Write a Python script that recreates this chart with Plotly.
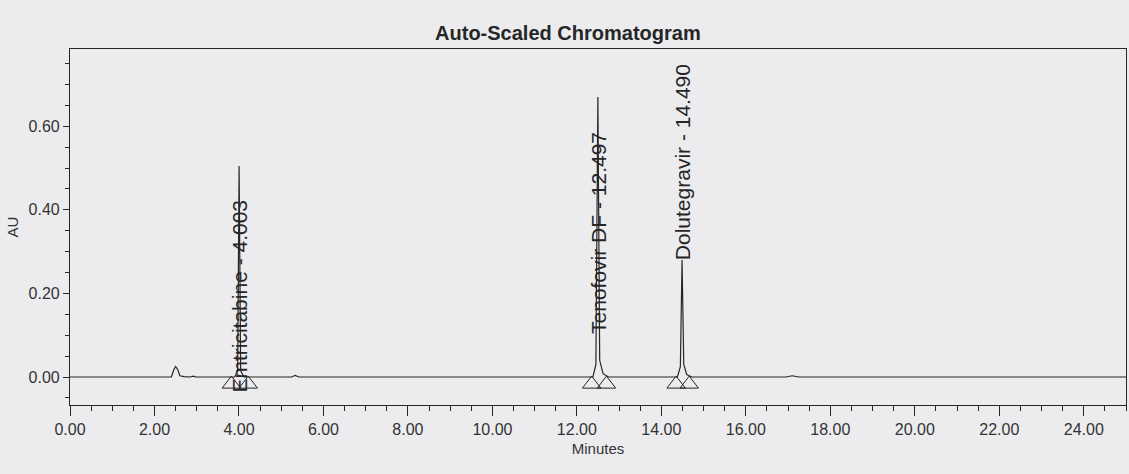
import plotly.graph_objects as go

# ---- data ----
signal_time = [0.00, 2.40, 2.46, 2.50, 2.55, 2.60, 2.70, 2.85, 2.92, 2.98,
               3.90, 3.97, 4.003, 4.04, 4.12,
               5.25, 5.33, 5.42,
               12.38, 12.45, 12.497, 12.54, 12.62, 12.75,
               14.38, 14.45, 14.490, 14.53, 14.60, 14.72,
               16.95, 17.10, 17.25, 25.00]
signal_au = [0.000, 0.000, 0.018, 0.025, 0.018, 0.003, 0.001, 0.000, 0.002, 0.000,
             0.000, 0.015, 0.505, 0.015, 0.000,
             0.000, 0.004, 0.000,
             0.000, 0.030, 0.670, 0.040, 0.008, 0.000,
             0.000, 0.025, 0.280, 0.030, 0.006, 0.000,
             0.000, 0.003, 0.000, 0.000]

peak_names = ["Emtricitabine", "Tenofovir DF", "Dolutegravir"]
peak_rt = [4.003, 12.497, 14.490]
peak_start = [3.82, 12.35, 14.35]
peak_end = [4.22, 12.70, 14.66]
label_base = [-0.043, 0.098, 0.275]

x_tick_vals = [0, 2, 4, 6, 8, 10, 12, 14, 16, 18, 20, 22, 24]
y_tick_vals = [0.0, 0.2, 0.4, 0.6]

FONT = "Arial, Liberation Sans, sans-serif"
INK = "#262626"
BG = "#ececef"

fig = go.Figure()

fig.add_trace(go.Scatter(
    x=signal_time, y=signal_au, mode="lines",
    line=dict(color=INK, width=1.2), showlegend=False, hoverinfo="skip"))

# peak start / end integration markers
marks_x = peak_start + peak_end
fig.add_trace(go.Scatter(
    x=marks_x, y=[-0.017] * len(marks_x), mode="markers",
    marker=dict(symbol="triangle-up-open", size=16, color=INK,
                line=dict(width=1, color=INK)),
    showlegend=False, hoverinfo="skip"))

for name, rt, yb in zip(peak_names, peak_rt, label_base):
    fig.add_annotation(
        x=rt, y=yb, xref="x", yref="y",
        text=f"{name} - {rt:.3f}", textangle=-90,
        showarrow=False, xanchor="center", yanchor="bottom",
        font=dict(family=FONT, size=21, color=INK))

fig.update_layout(
    width=1129, height=474,
    margin=dict(l=70, r=3, t=49, b=69),
    paper_bgcolor=BG, plot_bgcolor=BG,
    title=dict(text="<b>Auto-Scaled Chromatogram</b>", x=0.503, y=0.93,
               xanchor="center", yanchor="middle",
               font=dict(family=FONT, size=20, color=INK)),
    font=dict(family=FONT, color=INK),
)

fig.update_xaxes(
    range=[0, 25], tickvals=x_tick_vals,
    ticktext=[f"{v:.2f}" for v in x_tick_vals],
    ticks="outside", ticklen=10, tickwidth=1, tickcolor=INK,
    minor=dict(dtick=0.5, tick0=0, ticks="outside", ticklen=5, tickcolor=INK),
    showline=True, linecolor=INK, linewidth=1.2, mirror=True,
    showgrid=False, zeroline=False, automargin=False,
    tickfont=dict(family=FONT, size=16, color="#333"),
    title=dict(text="Minutes", font=dict(family=FONT, size=15, color="#333"), standoff=6),
)

fig.update_yaxes(
    range=[-0.067, 0.785], tickvals=y_tick_vals,
    ticktext=[f"{v:.2f}" for v in y_tick_vals],
    ticks="outside", ticklen=6, tickwidth=1, tickcolor=INK,
    minor=dict(dtick=0.05, tick0=0, ticks="outside", ticklen=4, tickcolor=INK),
    showline=True, linecolor=INK, linewidth=1.2, mirror=True,
    showgrid=False, zeroline=False, automargin=False,
    tickfont=dict(family=FONT, size=16, color="#333"),
    title=dict(text="AU", font=dict(family=FONT, size=15, color="#333"), standoff=6),
)

fig.write_html("out.html",
               config={"displayModeBar": False},
               post_script="document.body.style.margin='0';document.body.style.background='" + BG + "';")
